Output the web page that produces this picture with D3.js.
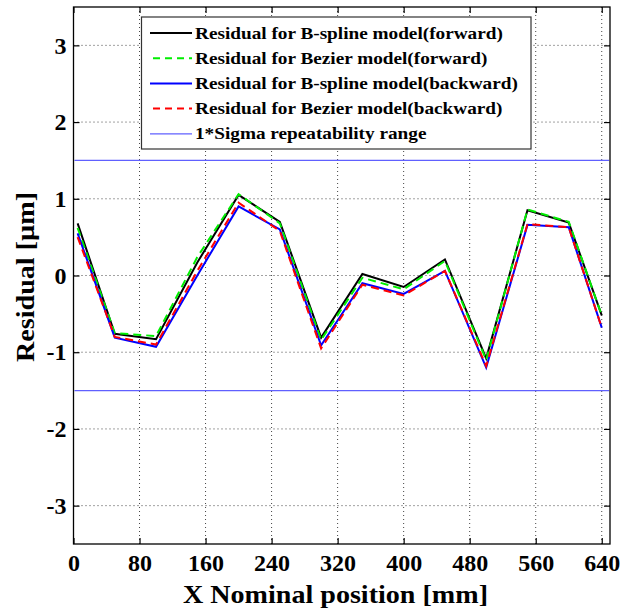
<!DOCTYPE html>
<html>
<head>
<meta charset="utf-8">
<script src="https://cdn.jsdelivr.net/npm/d3@7"></script>
<style>
  body { margin: 0; background: #fff; }
  text { font-family: "Liberation Serif", "DejaVu Serif", serif; font-weight: bold; }
</style>
</head>
<body>
<div id="chart"></div>
<script>
// positions along X (mm)
let positions = [5, 50, 100, 150, 200, 250, 300, 350, 400, 450, 500, 550, 600, 640];

// residuals (um)
let bsplineForward  = [0.68, -0.76, -0.83, 0.17, 1.05, 0.70, -0.81, 0.02, -0.15, 0.21, -1.08, 0.85, 0.69, -0.52];
let bezierForward   = [0.62, -0.75, -0.79, 0.24, 1.06, 0.68, -0.84, -0.03, -0.18, 0.19, -1.10, 0.86, 0.70, -0.52];
let bsplineBackward = [0.55, -0.81, -0.93, 0.00, 0.90, 0.60, -0.91, -0.10, -0.24, 0.06, -1.20, 0.66, 0.63, -0.68];
let bezierBackward  = [0.50, -0.80, -0.90, 0.06, 0.95, 0.58, -0.95, -0.12, -0.26, 0.06, -1.18, 0.67, 0.63, -0.68];

let sigmaRange = [-1.5, 1.5];

let xTicks = [0, 80, 160, 240, 320, 400, 480, 560, 640];
let yTicks = [-3, -2, -1, 0, 1, 2, 3];

let legendLabels = [
  "Residual for B-spline model(forward)",
  "Residual for Bezier model(forward)",
  "Residual for B-spline model(backward)",
  "Residual for Bezier model(backward)",
  "1*Sigma repeatability range"
];

let options = {
  width: 633,
  height: 615,
  margins: { top: 7, right: 23, bottom: 71, left: 73.5 }
};

let series = [
  { values: bsplineForward,  color: "#000000", dash: null },
  { values: bezierForward,   color: "#00ee00", dash: "8,5" },
  { values: bsplineBackward, color: "#0000ff", dash: null },
  { values: bezierBackward,  color: "#ff0000", dash: "8,5" }
];

let sigmaColor = "#6060ff";

let svg = d3.select("#chart")
  .append("svg")
  .attr("width", options.width)
  .attr("height", options.height);

let x0 = options.margins.left,
    x1 = options.width - options.margins.right,
    y0 = options.margins.top,
    y1 = options.height - options.margins.bottom;

let xScale = d3.scaleLinear().domain([0, 650]).range([x0, x1]);
let yScale = d3.scaleLinear().domain([-3.5, 3.5]).range([y1, y0]);

// dotted grid
let grid = svg.append("g");
grid.selectAll(".gx")
  .data(xTicks.filter(d => d > 0))
  .enter().append("line")
  .attr("x1", d => xScale(d)).attr("x2", d => xScale(d))
  .attr("y1", y0).attr("y2", y1)
  .attr("stroke", "#444").attr("stroke-width", 1)
  .attr("stroke-dasharray", "1,3");
grid.selectAll(".gy")
  .data(yTicks)
  .enter().append("line")
  .attr("x1", x0).attr("x2", x1)
  .attr("y1", d => yScale(d)).attr("y2", d => yScale(d))
  .attr("stroke", "#444").attr("stroke-width", 1)
  .attr("stroke-dasharray", "1,3");

// axes with inward ticks on all sides
let fmt = d => String(d);
let axisBottom = d3.axisBottom(xScale).tickValues(xTicks).tickSizeInner(-6).tickSizeOuter(0).tickPadding(10).tickFormat(fmt);
let axisTop = d3.axisTop(xScale).tickValues(xTicks).tickSizeInner(-6).tickSizeOuter(0).tickFormat("");
let axisLeft = d3.axisLeft(yScale).tickValues(yTicks).tickSizeInner(-6).tickSizeOuter(0).tickPadding(7).tickFormat(fmt);
let axisRight = d3.axisRight(yScale).tickValues(yTicks).tickSizeInner(-6).tickSizeOuter(0).tickFormat("");

function styleAxis(g) {
  g.select(".domain").remove();
  g.selectAll("line").attr("stroke", "#000").attr("stroke-width", 1.2);
  g.selectAll("text")
    .attr("fill", "#000")
    .style("font-size", "24px")
    .style("font-family", "'Liberation Serif', serif")
    .style("font-weight", "bold");
}

svg.append("g").attr("transform", `translate(0,${y1})`).call(axisBottom).call(styleAxis);
svg.append("g").attr("transform", `translate(0,${y0})`).call(axisTop).call(styleAxis);
svg.append("g").attr("transform", `translate(${x0},0)`).call(axisLeft).call(styleAxis);
svg.append("g").attr("transform", `translate(${x1},0)`).call(axisRight).call(styleAxis);

// sigma lines
svg.selectAll(".sigma")
  .data(sigmaRange)
  .enter().append("line")
  .attr("x1", x0 + 1).attr("x2", x1 - 1)
  .attr("y1", d => yScale(d)).attr("y2", d => yScale(d))
  .attr("stroke", sigmaColor).attr("stroke-width", 1.3);

// residual lines
let line = d3.line()
  .x((d, i) => xScale(positions[i]))
  .y(d => yScale(d));

svg.selectAll(".series")
  .data(series)
  .enter().append("path")
  .attr("d", d => line(d.values))
  .attr("fill", "none")
  .attr("stroke", d => d.color)
  .attr("stroke-width", 2)
  .attr("stroke-dasharray", d => d.dash);

// plot frame
svg.append("rect")
  .attr("x", x0).attr("y", y0)
  .attr("width", x1 - x0).attr("height", y1 - y0)
  .attr("fill", "none").attr("stroke", "#000").attr("stroke-width", 1.3);

// legend
let legend = svg.append("g").attr("id", "legend");
legend.append("rect")
  .attr("x", 141.5).attr("y", 17)
  .attr("width", 389.5).attr("height", 132)
  .attr("fill", "#fff").attr("stroke", "#333").attr("stroke-width", 1.2);

let legendItems = series.map((s, i) => ({ label: legendLabels[i], color: s.color, dash: s.dash, width: 2 }))
  .concat([{ label: legendLabels[4], color: sigmaColor, dash: null, width: 1.3 }]);

let rows = legend.selectAll(".row")
  .data(legendItems)
  .enter().append("g")
  .attr("transform", (d, i) => `translate(0,${33 + i * 25.2})`);

rows.append("line")
  .attr("x1", 150).attr("x2", 192)
  .attr("stroke", d => d.color)
  .attr("stroke-width", d => d.width)
  .attr("stroke-dasharray", d => d.dash ? "7,5" : null)
  .attr("stroke-dashoffset", d => d.dash ? -3 : null);

rows.append("text")
  .attr("transform", "translate(195,5.5) scale(1.1,1)")
  .style("font-size", "17.5px")
  .text(d => d.label);

// axis titles
svg.append("text")
  .attr("x", 183).attr("y", 603)
  .attr("textLength", 305)
  .attr("lengthAdjust", "spacingAndGlyphs")
  .style("font-size", "25px")
  .text("X Nominal position [mm]");

svg.append("text")
  .attr("transform", `translate(34,362) rotate(-90)`)
  .attr("textLength", 170)
  .attr("lengthAdjust", "spacingAndGlyphs")
  .style("font-size", "25px")
  .text("Residual [µm]");
</script>
</body>
</html>
